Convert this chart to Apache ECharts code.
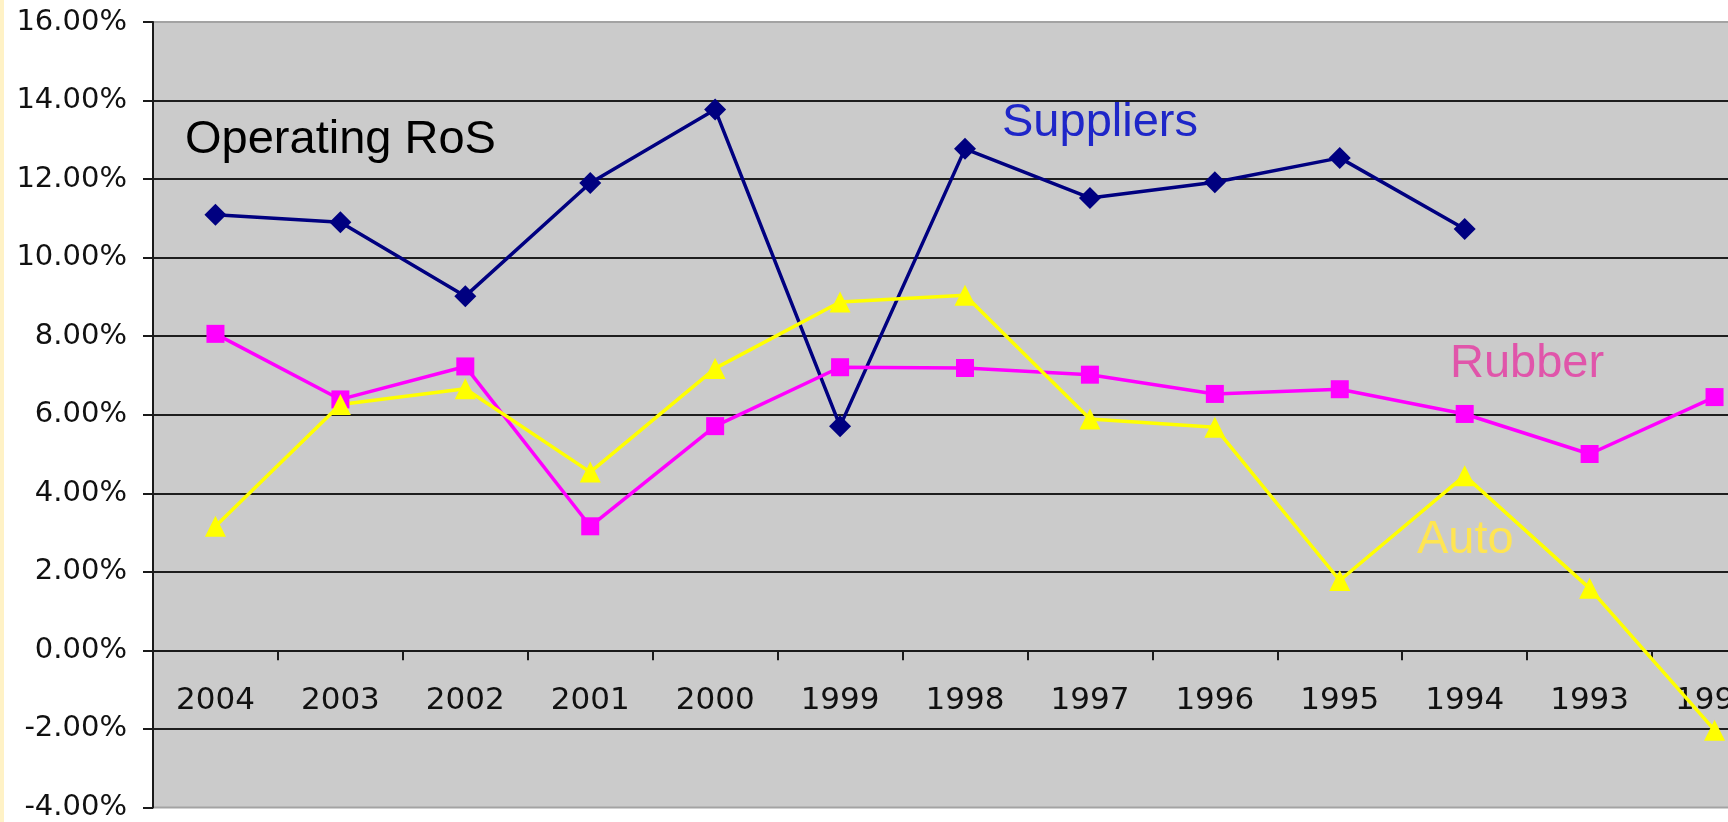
<!DOCTYPE html>
<html>
<head>
<meta charset="utf-8">
<script src="https://cdn.jsdelivr.net/npm/echarts@6/dist/echarts.min.js"></script>
<style>
  html, body { margin: 0; padding: 0; background: #fff; overflow: hidden; }
  /* the source chart runs off the right edge, so the canvas is wider than the window */
  #chart { width: 1800px; height: 822px; }
</style>
</head>
<body>
<div id="chart"></div>
<script>
// years run backwards, as in the source sheet
const years = ['2004', '2003', '2002', '2001', '2000', '1999', '1998', '1997', '1996', '1995', '1994', '1993', '1992']

// operating return on sales, in %
const suppliers = [11.09, 10.90, 9.02, 11.90, 13.77, 5.71, 12.77, 11.52, 11.92, 12.54, 10.73, null, null]
const rubber = [8.06, 6.39, 7.23, 3.16, 5.71, 7.21, 7.19, 7.02, 6.53, 6.65, 6.02, 5.00, 6.45]
const auto = [3.16, 6.26, 6.66, 4.54, 7.18, 8.87, 9.04, 5.89, 5.68, 1.78, 4.45, 1.58, -2.03]

const yTicks = { min: -4, max: 16, step: 2 }

;(function () {
  const chart = echarts.init(document.getElementById('chart'))

  const axisFont = 'DejaVu Sans, Verdana, sans-serif'
  const noteFont = 'Liberation Sans, Arial, sans-serif'

  const gridTop = 22
  const gridBottom = 14
  const plotHeight = 822 - gridTop - gridBottom
  // x axis sits on the 0% line, not at the bottom of the plot
  const zeroOffset = -plotHeight * (0 - yTicks.min) / (yTicks.max - yTicks.min)

  function lineSeries (name, data, color, symbol, size) {
    return {
      type: 'line',
      name,
      data,
      symbol,
      symbolSize: size,
      showSymbol: true,
      connectNulls: false,
      animation: false,
      lineStyle: { color, width: 3.5 },
      itemStyle: { color, borderWidth: 0 },
      z: 3
    }
  }

  function note (text, x, y, color) {
    return {
      type: 'text',
      x,
      y,
      z: 10,
      style: {
        text,
        font: '47px ' + noteFont,
        fill: color,
        verticalAlign: 'middle'
      }
    }
  }

  const option = {
    backgroundColor: '#ffffff',
    animation: false,
    grid: {
      left: 153,
      top: gridTop,
      right: 23,
      bottom: gridBottom,
      show: true,
      backgroundColor: '#cbcbcb',
      borderColor: '#a3a3a3',
      borderWidth: 2
    },
    xAxis: {
      type: 'category',
      data: years,
      boundaryGap: true,
      position: 'bottom',
      offset: zeroOffset,
      axisLine: { onZero: false, lineStyle: { color: '#1a1a1a', width: 2 } },
      axisTick: { show: true, length: 10, lineStyle: { color: '#1a1a1a', width: 2 } },
      axisLabel: {
        color: '#111',
        fontFamily: axisFont,
        fontSize: 31,
        margin: 35,
        interval: 0
      },
      splitLine: { show: false }
    },
    yAxis: {
      type: 'value',
      min: yTicks.min,
      max: yTicks.max,
      interval: yTicks.step,
      axisLine: { show: true, lineStyle: { color: '#1a1a1a', width: 2 } },
      axisTick: { show: true, length: 10, lineStyle: { color: '#1a1a1a', width: 2 } },
      axisLabel: {
        color: '#111',
        fontFamily: axisFont,
        fontSize: 29,
        margin: 26,
        formatter: (v) => v.toFixed(2) + '%'
      },
      splitLine: {
        show: true,
        showMinLine: false,
        showMaxLine: false,
        lineStyle: { color: '#1e1e1e', width: 2 }
      }
    },
    series: [
      lineSeries('Suppliers', suppliers, '#000080', 'diamond', 22),
      lineSeries('Rubber', rubber, '#ff00ff', 'rect', 18),
      lineSeries('Auto', auto, '#ffff00', 'triangle', 21)
    ],
    graphic: [
      { type: 'rect', shape: { x: 0, y: 0, width: 4, height: 822 }, style: { fill: '#fff2c6' } },
      note('Operating RoS', 185, 140, '#000000'),
      note('Suppliers', 1002, 123, '#1e26c8'),
      note('Rubber', 1450, 364, '#e055aa'),
      note('Auto', 1417, 540, '#ffe552')
    ]
  }

  chart.setOption(option)
})()
</script>
</body>
</html>
